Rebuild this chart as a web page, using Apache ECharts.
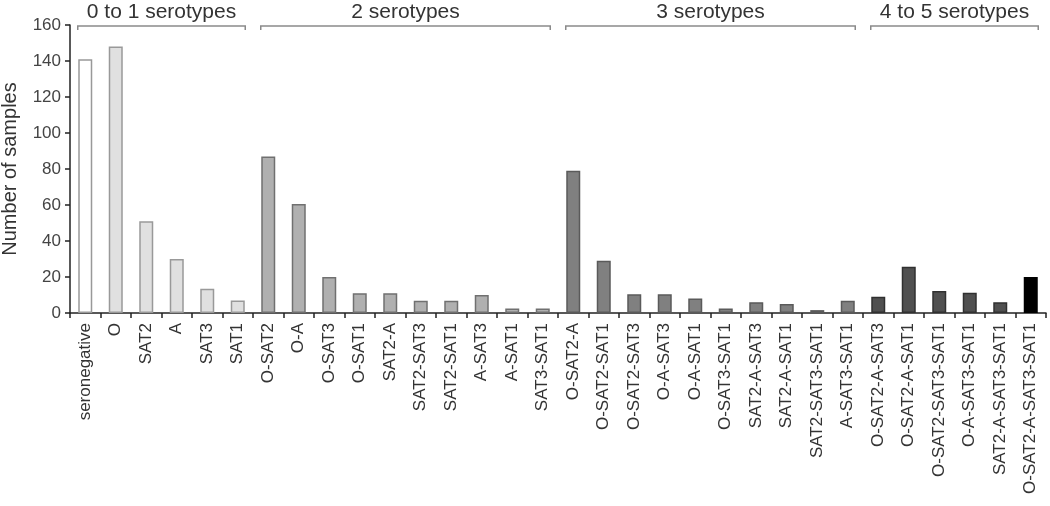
<!DOCTYPE html>
<html>
<head>
<meta charset="utf-8">
<script src="https://cdn.jsdelivr.net/npm/echarts@6/dist/echarts.min.js"></script>
<style>html,body{margin:0;padding:0;background:#fff}#c{width:1050px;height:506px}</style>
</head>
<body>
<div id="c"></div>
<script>
const categories = ['seronegative','O','SAT2','A','SAT3','SAT1',
  'O-SAT2','O-A','O-SAT3','O-SAT1','SAT2-A','SAT2-SAT3','SAT2-SAT1','A-SAT3','A-SAT1','SAT3-SAT1',
  'O-SAT2-A','O-SAT2-SAT1','O-SAT2-SAT3','O-A-SAT3','O-A-SAT1','O-SAT3-SAT1','SAT2-A-SAT3','SAT2-A-SAT1','SAT2-SAT3-SAT1','A-SAT3-SAT1',
  'O-SAT2-A-SAT3','O-SAT2-A-SAT1','O-SAT2-SAT3-SAT1','O-A-SAT3-SAT1','SAT2-A-SAT3-SAT1','O-SAT2-A-SAT3-SAT1'];
const values = [141,148,51,30,13.5,7,
  87,60.5,20,11,11,6.8,6.8,10,2.5,2.5,
  79,29,10.4,10.4,8,2.5,6,5,1.6,6.8,
  9,25.7,12.2,11.3,6,20];
const groupNames = ['0 to 1 serotypes','2 serotypes','3 serotypes','4 to 5 serotypes'];
const groupStart = [0,6,16,26];
const groupEnd = [5,15,25,31];
const yTicks = [0,20,40,60,80,100,120,140,160];

function styleFor(i){
  if(i===0) return {color:'#ffffff', borderColor:'#999999'};
  if(i===31) return {color:'#000000', borderColor:'#000000'};
  if(i<6) return {color:'#e0e0e0', borderColor:'#999999'};
  if(i<16) return {color:'#b0b0b0', borderColor:'#707070'};
  if(i<26) return {color:'#808080', borderColor:'#5a5a5a'};
  return {color:'#505050', borderColor:'#303030'};
}

const chart = echarts.init(document.getElementById('c'));
const FONT = '"Liberation Sans", Arial, sans-serif';
chart.setOption({
  animation:false,
  grid:{left:70,right:4,top:25,bottom:193,containLabel:false,outerBoundsMode:'none'},
  xAxis:{
    type:'category', data:categories,
    axisLine:{lineStyle:{color:'#222',width:1.5}},
    axisTick:{show:true,alignWithLabel:false,length:5,lineStyle:{color:'#222',width:1.5}},
    axisLabel:{rotate:90,interval:0,fontSize:17,color:'#333',fontFamily:FONT,margin:10}
  },
  yAxis:{
    type:'value', min:0, max:160, interval:20,
    name:'Number of samples', nameLocation:'middle', nameGap:50,
    nameTextStyle:{fontSize:20,color:'#333',fontFamily:FONT},
    axisLine:{show:true,lineStyle:{color:'#222',width:1.5}},
    axisTick:{show:true,length:5,lineStyle:{color:'#222',width:1.5}},
    axisLabel:{fontSize:17,color:'#444',fontFamily:FONT,margin:9,
      formatter:function(v){return yTicks.indexOf(v)>=0?String(v):'';}},
    splitLine:{show:false}
  },
  series:[{
    type:'bar', barWidth:14,
    data: values.map(function(v,i){var s=styleFor(i);return {value:v,itemStyle:{color:s.color,borderColor:s.borderColor,borderWidth:1.5}};})
  }]
});

function drawBrackets(){
  const half = 7.5;
  const els = [];
  for(let g=0; g<groupNames.length; g++){
    const x1 = chart.convertToPixel({xAxisIndex:0}, groupStart[g]) - half;
    const x2 = chart.convertToPixel({xAxisIndex:0}, groupEnd[g]) + half;
    const y = 26;
    els.push({type:'polyline', shape:{points:[[x1,y+4],[x1,y],[x2,y],[x2,y+4]]},
      style:{stroke:'#8a8a8a',lineWidth:1.5,fill:null}});
    els.push({type:'text', x:(x1+x2)/2, y:12,
      style:{text:groupNames[g], fontSize:21, fontFamily:FONT, fill:'#333', align:'center', verticalAlign:'middle'}});
  }
  chart.setOption({graphic:els});
}
drawBrackets();
</script>
</body>
</html>
